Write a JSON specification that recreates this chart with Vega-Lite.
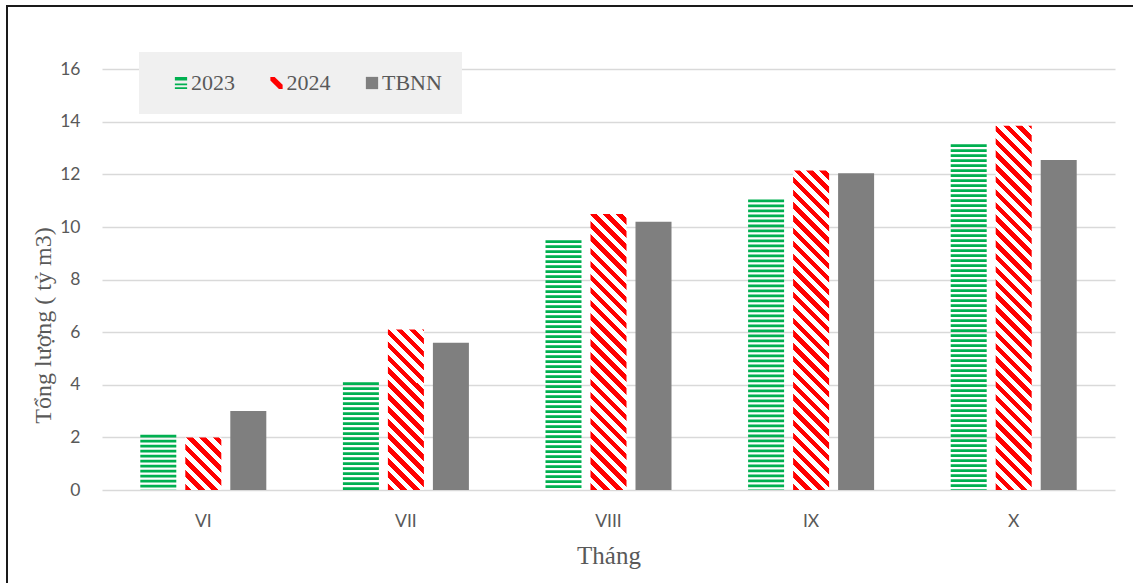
{
  "$schema": "https://vega.github.io/schema/vega-lite/v6.json",
  "width": 1130,
  "height": 580,
  "autosize": {"type": "none"},
  "padding": {"left": 7, "top": 6, "right": -4, "bottom": -3},
  "background": "white",
  "config": {
    "view": {"stroke": "#1a1a1a", "strokeWidth": 2}
  },
  "data": {
    "values": [
      {"month": "VI", "series": "2023", "value": 2.1},
      {"month": "VII", "series": "2023", "value": 4.1},
      {"month": "VIII", "series": "2023", "value": 9.5},
      {"month": "IX", "series": "2023", "value": 11.05},
      {"month": "X", "series": "2023", "value": 13.15},
      {"month": "VI", "series": "2024", "value": 2.0},
      {"month": "VII", "series": "2024", "value": 6.1},
      {"month": "VIII", "series": "2024", "value": 10.5},
      {"month": "IX", "series": "2024", "value": 12.15},
      {"month": "X", "series": "2024", "value": 13.85},
      {"month": "VI", "series": "TBNN", "value": 3.0},
      {"month": "VII", "series": "TBNN", "value": 5.6},
      {"month": "VIII", "series": "TBNN", "value": 10.2},
      {"month": "IX", "series": "TBNN", "value": 12.05},
      {"month": "X", "series": "TBNN", "value": 12.55}
    ]
  },
  "encoding": {
    "x": {
      "field": "month", "type": "nominal",
      "sort": ["VI", "VII", "VIII", "IX", "X"],
      "scale": {"range": [95, 1108], "paddingInner": 0, "paddingOuter": 0},
      "axis": {
        "title": "Tháng", "offset": -96, "domain": false, "ticks": false, "tickSize": 0,
        "grid": false, "labelAngle": 0, "labelPadding": 22,
        "labelFont": "Lato", "labelFontSize": 17.5, "labelColor": "#595959",
        "titleFont": "Liberation Serif", "titleFontSize": 25, "titleFontWeight": "normal",
        "titleColor": "#595959", "titleY": 73, "titleBaseline": "alphabetic"
      }
    },
    "xOffset": {
      "field": "series", "type": "nominal",
      "sort": ["2023", "2024", "TBNN"],
      "scale": {"paddingInner": 0.2, "paddingOuter": 0.851}
    },
    "y": {
      "field": "value", "type": "quantitative",
      "scale": {"domain": [0, 16], "range": [484, 63.3], "nice": false},
      "axis": {
        "title": "Tổng lượng ( tỷ m3)", "values": [0, 2, 4, 6, 8, 10, 12, 14, 16],
        "offset": -95, "domain": false, "ticks": false, "tickSize": 0, "labelPadding": 22,
        "labelFont": "Lato", "labelFontSize": 17.5, "labelColor": "#595959",
        "gridColor": "#d9d9d9", "gridWidth": 1.3,
        "titleFont": "Liberation Serif", "titleFontSize": 24, "titleFontWeight": "normal",
        "titleColor": "#595959", "titleX": -52, "titleY": 319, "titleAngle": 270,
        "titleBaseline": "alphabetic", "titleAlign": "center"
      }
    }
  },
  "layer": [
    {
      "transform": [{"filter": "datum.series === 'TBNN'"}],
      "mark": {"type": "bar", "color": "#7f7f7f"}
    },
    {
      "transform": [{"filter": "datum.series === '2023'"}],
      "mark": {"type": "rule", "color": "#00b050", "strokeWidth": 36, "strokeDash": [2.7, 2.3], "strokeCap": "butt"},
      "encoding": {"y2": {"datum": 0}}
    },
    {
      "transform": [{"filter": "datum.series === '2024' && datum.month === 'VI'"}],
      "mark": {"type": "bar", "fill": {"gradient": "linear", "x1": 0, "y1": 1, "x2": 0.7852, "y2": -0.147, "stops": [
        {"offset":0,"color":"red"},{"offset":0.075,"color":"red"},{"offset":0.075,"color":"#fff"},{"offset":0.15,"color":"#fff"},{"offset":0.15,"color":"red"},{"offset":0.225,"color":"red"},{"offset":0.225,"color":"#fff"},{"offset":0.3,"color":"#fff"},{"offset":0.3,"color":"red"},{"offset":0.375,"color":"red"},{"offset":0.375,"color":"#fff"},{"offset":0.45,"color":"#fff"},{"offset":0.45,"color":"red"},{"offset":0.525,"color":"red"},{"offset":0.525,"color":"#fff"},{"offset":0.6,"color":"#fff"},{"offset":0.6,"color":"red"},{"offset":0.675,"color":"red"},{"offset":0.675,"color":"#fff"},{"offset":0.75,"color":"#fff"},{"offset":0.75,"color":"red"},{"offset":0.825,"color":"red"},{"offset":0.825,"color":"#fff"},{"offset":0.9,"color":"#fff"},{"offset":0.9,"color":"red"},{"offset":0.975,"color":"red"},{"offset":0.975,"color":"#fff"},{"offset":1,"color":"#fff"}
      ]}}
    },
    {
      "transform": [{"filter": "datum.series === '2024' && datum.month === 'VII'"}],
      "mark": {"type": "bar", "fill": {"gradient": "linear", "x1": 0, "y1": 1, "x2": 0.2616, "y2": -0.1657, "stops": [
        {"offset":0,"color":"red"},{"offset":0.033,"color":"red"},{"offset":0.033,"color":"#fff"},{"offset":0.066,"color":"#fff"},{"offset":0.066,"color":"red"},{"offset":0.099,"color":"red"},{"offset":0.099,"color":"#fff"},{"offset":0.132,"color":"#fff"},{"offset":0.132,"color":"red"},{"offset":0.165,"color":"red"},{"offset":0.165,"color":"#fff"},{"offset":0.198,"color":"#fff"},{"offset":0.198,"color":"red"},{"offset":0.231,"color":"red"},{"offset":0.231,"color":"#fff"},{"offset":0.264,"color":"#fff"},{"offset":0.264,"color":"red"},{"offset":0.297,"color":"red"},{"offset":0.297,"color":"#fff"},{"offset":0.33,"color":"#fff"},{"offset":0.33,"color":"red"},{"offset":0.363,"color":"red"},{"offset":0.363,"color":"#fff"},{"offset":0.396,"color":"#fff"},{"offset":0.396,"color":"red"},{"offset":0.429,"color":"red"},{"offset":0.429,"color":"#fff"},{"offset":0.462,"color":"#fff"},{"offset":0.462,"color":"red"},{"offset":0.495,"color":"red"},{"offset":0.495,"color":"#fff"},{"offset":0.528,"color":"#fff"},{"offset":0.528,"color":"red"},{"offset":0.561,"color":"red"},{"offset":0.561,"color":"#fff"},{"offset":0.594,"color":"#fff"},{"offset":0.594,"color":"red"},{"offset":0.627,"color":"red"},{"offset":0.627,"color":"#fff"},{"offset":0.66,"color":"#fff"},{"offset":0.66,"color":"red"},{"offset":0.693,"color":"red"},{"offset":0.693,"color":"#fff"},{"offset":0.726,"color":"#fff"},{"offset":0.726,"color":"red"},{"offset":0.759,"color":"red"},{"offset":0.759,"color":"#fff"},{"offset":0.792,"color":"#fff"},{"offset":0.792,"color":"red"},{"offset":0.825,"color":"red"},{"offset":0.825,"color":"#fff"},{"offset":0.858,"color":"#fff"},{"offset":0.858,"color":"red"},{"offset":0.891,"color":"red"},{"offset":0.891,"color":"#fff"},{"offset":0.924,"color":"#fff"},{"offset":0.924,"color":"red"},{"offset":0.957,"color":"red"},{"offset":0.957,"color":"#fff"},{"offset":0.99,"color":"#fff"},{"offset":0.99,"color":"red"},{"offset":1,"color":"red"}
      ]}}
    },
    {
      "transform": [{"filter": "datum.series === '2024' && datum.month === 'VIII'"}],
      "mark": {"type": "bar", "fill": {"gradient": "linear", "x1": 0, "y1": 1, "x2": 0.1449, "y2": -0.1115, "stops": [
        {"offset":0,"color":"red"},{"offset":0.021,"color":"red"},{"offset":0.021,"color":"#fff"},{"offset":0.042,"color":"#fff"},{"offset":0.042,"color":"red"},{"offset":0.063,"color":"red"},{"offset":0.063,"color":"#fff"},{"offset":0.084,"color":"#fff"},{"offset":0.084,"color":"red"},{"offset":0.105,"color":"red"},{"offset":0.105,"color":"#fff"},{"offset":0.126,"color":"#fff"},{"offset":0.126,"color":"red"},{"offset":0.147,"color":"red"},{"offset":0.147,"color":"#fff"},{"offset":0.168,"color":"#fff"},{"offset":0.168,"color":"red"},{"offset":0.189,"color":"red"},{"offset":0.189,"color":"#fff"},{"offset":0.21,"color":"#fff"},{"offset":0.21,"color":"red"},{"offset":0.231,"color":"red"},{"offset":0.231,"color":"#fff"},{"offset":0.252,"color":"#fff"},{"offset":0.252,"color":"red"},{"offset":0.273,"color":"red"},{"offset":0.273,"color":"#fff"},{"offset":0.294,"color":"#fff"},{"offset":0.294,"color":"red"},{"offset":0.315,"color":"red"},{"offset":0.315,"color":"#fff"},{"offset":0.336,"color":"#fff"},{"offset":0.336,"color":"red"},{"offset":0.357,"color":"red"},{"offset":0.357,"color":"#fff"},{"offset":0.378,"color":"#fff"},{"offset":0.378,"color":"red"},{"offset":0.399,"color":"red"},{"offset":0.399,"color":"#fff"},{"offset":0.42,"color":"#fff"},{"offset":0.42,"color":"red"},{"offset":0.441,"color":"red"},{"offset":0.441,"color":"#fff"},{"offset":0.462,"color":"#fff"},{"offset":0.462,"color":"red"},{"offset":0.483,"color":"red"},{"offset":0.483,"color":"#fff"},{"offset":0.504,"color":"#fff"},{"offset":0.504,"color":"red"},{"offset":0.525,"color":"red"},{"offset":0.525,"color":"#fff"},{"offset":0.546,"color":"#fff"},{"offset":0.546,"color":"red"},{"offset":0.567,"color":"red"},{"offset":0.567,"color":"#fff"},{"offset":0.588,"color":"#fff"},{"offset":0.588,"color":"red"},{"offset":0.609,"color":"red"},{"offset":0.609,"color":"#fff"},{"offset":0.63,"color":"#fff"},{"offset":0.63,"color":"red"},{"offset":0.651,"color":"red"},{"offset":0.651,"color":"#fff"},{"offset":0.672,"color":"#fff"},{"offset":0.672,"color":"red"},{"offset":0.693,"color":"red"},{"offset":0.693,"color":"#fff"},{"offset":0.714,"color":"#fff"},{"offset":0.714,"color":"red"},{"offset":0.735,"color":"red"},{"offset":0.735,"color":"#fff"},{"offset":0.756,"color":"#fff"},{"offset":0.756,"color":"red"},{"offset":0.777,"color":"red"},{"offset":0.777,"color":"#fff"},{"offset":0.798,"color":"#fff"},{"offset":0.798,"color":"red"},{"offset":0.819,"color":"red"},{"offset":0.819,"color":"#fff"},{"offset":0.84,"color":"#fff"},{"offset":0.84,"color":"red"},{"offset":0.861,"color":"red"},{"offset":0.861,"color":"#fff"},{"offset":0.882,"color":"#fff"},{"offset":0.882,"color":"red"},{"offset":0.903,"color":"red"},{"offset":0.903,"color":"#fff"},{"offset":0.924,"color":"#fff"},{"offset":0.924,"color":"red"},{"offset":0.945,"color":"red"},{"offset":0.945,"color":"#fff"},{"offset":0.966,"color":"#fff"},{"offset":0.966,"color":"red"},{"offset":0.987,"color":"red"},{"offset":0.987,"color":"#fff"},{"offset":1,"color":"#fff"}
      ]}}
    },
    {
      "transform": [{"filter": "datum.series === '2024' && datum.month === 'IX'"}],
      "mark": {"type": "bar", "fill": {"gradient": "linear", "x1": 0, "y1": 1, "x2": 0.1238, "y2": -0.0987, "stops": [
        {"offset":0,"color":"red"},{"offset":0.018,"color":"red"},{"offset":0.018,"color":"#fff"},{"offset":0.036,"color":"#fff"},{"offset":0.036,"color":"red"},{"offset":0.054,"color":"red"},{"offset":0.054,"color":"#fff"},{"offset":0.072,"color":"#fff"},{"offset":0.072,"color":"red"},{"offset":0.09,"color":"red"},{"offset":0.09,"color":"#fff"},{"offset":0.108,"color":"#fff"},{"offset":0.108,"color":"red"},{"offset":0.126,"color":"red"},{"offset":0.126,"color":"#fff"},{"offset":0.144,"color":"#fff"},{"offset":0.144,"color":"red"},{"offset":0.162,"color":"red"},{"offset":0.162,"color":"#fff"},{"offset":0.18,"color":"#fff"},{"offset":0.18,"color":"red"},{"offset":0.198,"color":"red"},{"offset":0.198,"color":"#fff"},{"offset":0.216,"color":"#fff"},{"offset":0.216,"color":"red"},{"offset":0.234,"color":"red"},{"offset":0.234,"color":"#fff"},{"offset":0.252,"color":"#fff"},{"offset":0.252,"color":"red"},{"offset":0.27,"color":"red"},{"offset":0.27,"color":"#fff"},{"offset":0.288,"color":"#fff"},{"offset":0.288,"color":"red"},{"offset":0.306,"color":"red"},{"offset":0.306,"color":"#fff"},{"offset":0.324,"color":"#fff"},{"offset":0.324,"color":"red"},{"offset":0.342,"color":"red"},{"offset":0.342,"color":"#fff"},{"offset":0.36,"color":"#fff"},{"offset":0.36,"color":"red"},{"offset":0.378,"color":"red"},{"offset":0.378,"color":"#fff"},{"offset":0.396,"color":"#fff"},{"offset":0.396,"color":"red"},{"offset":0.414,"color":"red"},{"offset":0.414,"color":"#fff"},{"offset":0.432,"color":"#fff"},{"offset":0.432,"color":"red"},{"offset":0.45,"color":"red"},{"offset":0.45,"color":"#fff"},{"offset":0.468,"color":"#fff"},{"offset":0.468,"color":"red"},{"offset":0.486,"color":"red"},{"offset":0.486,"color":"#fff"},{"offset":0.504,"color":"#fff"},{"offset":0.504,"color":"red"},{"offset":0.522,"color":"red"},{"offset":0.522,"color":"#fff"},{"offset":0.54,"color":"#fff"},{"offset":0.54,"color":"red"},{"offset":0.558,"color":"red"},{"offset":0.558,"color":"#fff"},{"offset":0.576,"color":"#fff"},{"offset":0.576,"color":"red"},{"offset":0.594,"color":"red"},{"offset":0.594,"color":"#fff"},{"offset":0.612,"color":"#fff"},{"offset":0.612,"color":"red"},{"offset":0.63,"color":"red"},{"offset":0.63,"color":"#fff"},{"offset":0.648,"color":"#fff"},{"offset":0.648,"color":"red"},{"offset":0.666,"color":"red"},{"offset":0.666,"color":"#fff"},{"offset":0.684,"color":"#fff"},{"offset":0.684,"color":"red"},{"offset":0.702,"color":"red"},{"offset":0.702,"color":"#fff"},{"offset":0.72,"color":"#fff"},{"offset":0.72,"color":"red"},{"offset":0.738,"color":"red"},{"offset":0.738,"color":"#fff"},{"offset":0.756,"color":"#fff"},{"offset":0.756,"color":"red"},{"offset":0.774,"color":"red"},{"offset":0.774,"color":"#fff"},{"offset":0.792,"color":"#fff"},{"offset":0.792,"color":"red"},{"offset":0.81,"color":"red"},{"offset":0.81,"color":"#fff"},{"offset":0.828,"color":"#fff"},{"offset":0.828,"color":"red"},{"offset":0.846,"color":"red"},{"offset":0.846,"color":"#fff"},{"offset":0.864,"color":"#fff"},{"offset":0.864,"color":"red"},{"offset":0.882,"color":"red"},{"offset":0.882,"color":"#fff"},{"offset":0.9,"color":"#fff"},{"offset":0.9,"color":"red"},{"offset":0.918,"color":"red"},{"offset":0.918,"color":"#fff"},{"offset":0.936,"color":"#fff"},{"offset":0.936,"color":"red"},{"offset":0.954,"color":"red"},{"offset":0.954,"color":"#fff"},{"offset":0.972,"color":"#fff"},{"offset":0.972,"color":"red"},{"offset":0.99,"color":"red"},{"offset":0.99,"color":"#fff"},{"offset":1,"color":"#fff"}
      ]}}
    },
    {
      "transform": [{"filter": "datum.series === '2024' && datum.month === 'X'"}],
      "mark": {"type": "bar", "fill": {"gradient": "linear", "x1": 0, "y1": 1, "x2": 0.1076, "y2": -0.0882, "stops": [
        {"offset":0,"color":"red"},{"offset":0.016,"color":"red"},{"offset":0.016,"color":"#fff"},{"offset":0.032,"color":"#fff"},{"offset":0.032,"color":"red"},{"offset":0.048,"color":"red"},{"offset":0.048,"color":"#fff"},{"offset":0.064,"color":"#fff"},{"offset":0.064,"color":"red"},{"offset":0.08,"color":"red"},{"offset":0.08,"color":"#fff"},{"offset":0.096,"color":"#fff"},{"offset":0.096,"color":"red"},{"offset":0.112,"color":"red"},{"offset":0.112,"color":"#fff"},{"offset":0.128,"color":"#fff"},{"offset":0.128,"color":"red"},{"offset":0.144,"color":"red"},{"offset":0.144,"color":"#fff"},{"offset":0.16,"color":"#fff"},{"offset":0.16,"color":"red"},{"offset":0.176,"color":"red"},{"offset":0.176,"color":"#fff"},{"offset":0.192,"color":"#fff"},{"offset":0.192,"color":"red"},{"offset":0.208,"color":"red"},{"offset":0.208,"color":"#fff"},{"offset":0.224,"color":"#fff"},{"offset":0.224,"color":"red"},{"offset":0.24,"color":"red"},{"offset":0.24,"color":"#fff"},{"offset":0.256,"color":"#fff"},{"offset":0.256,"color":"red"},{"offset":0.272,"color":"red"},{"offset":0.272,"color":"#fff"},{"offset":0.288,"color":"#fff"},{"offset":0.288,"color":"red"},{"offset":0.304,"color":"red"},{"offset":0.304,"color":"#fff"},{"offset":0.32,"color":"#fff"},{"offset":0.32,"color":"red"},{"offset":0.336,"color":"red"},{"offset":0.336,"color":"#fff"},{"offset":0.352,"color":"#fff"},{"offset":0.352,"color":"red"},{"offset":0.368,"color":"red"},{"offset":0.368,"color":"#fff"},{"offset":0.384,"color":"#fff"},{"offset":0.384,"color":"red"},{"offset":0.4,"color":"red"},{"offset":0.4,"color":"#fff"},{"offset":0.416,"color":"#fff"},{"offset":0.416,"color":"red"},{"offset":0.432,"color":"red"},{"offset":0.432,"color":"#fff"},{"offset":0.448,"color":"#fff"},{"offset":0.448,"color":"red"},{"offset":0.464,"color":"red"},{"offset":0.464,"color":"#fff"},{"offset":0.48,"color":"#fff"},{"offset":0.48,"color":"red"},{"offset":0.496,"color":"red"},{"offset":0.496,"color":"#fff"},{"offset":0.512,"color":"#fff"},{"offset":0.512,"color":"red"},{"offset":0.528,"color":"red"},{"offset":0.528,"color":"#fff"},{"offset":0.544,"color":"#fff"},{"offset":0.544,"color":"red"},{"offset":0.56,"color":"red"},{"offset":0.56,"color":"#fff"},{"offset":0.576,"color":"#fff"},{"offset":0.576,"color":"red"},{"offset":0.592,"color":"red"},{"offset":0.592,"color":"#fff"},{"offset":0.608,"color":"#fff"},{"offset":0.608,"color":"red"},{"offset":0.624,"color":"red"},{"offset":0.624,"color":"#fff"},{"offset":0.64,"color":"#fff"},{"offset":0.64,"color":"red"},{"offset":0.656,"color":"red"},{"offset":0.656,"color":"#fff"},{"offset":0.672,"color":"#fff"},{"offset":0.672,"color":"red"},{"offset":0.688,"color":"red"},{"offset":0.688,"color":"#fff"},{"offset":0.704,"color":"#fff"},{"offset":0.704,"color":"red"},{"offset":0.72,"color":"red"},{"offset":0.72,"color":"#fff"},{"offset":0.736,"color":"#fff"},{"offset":0.736,"color":"red"},{"offset":0.752,"color":"red"},{"offset":0.752,"color":"#fff"},{"offset":0.768,"color":"#fff"},{"offset":0.768,"color":"red"},{"offset":0.784,"color":"red"},{"offset":0.784,"color":"#fff"},{"offset":0.8,"color":"#fff"},{"offset":0.8,"color":"red"},{"offset":0.816,"color":"red"},{"offset":0.816,"color":"#fff"},{"offset":0.832,"color":"#fff"},{"offset":0.832,"color":"red"},{"offset":0.848,"color":"red"},{"offset":0.848,"color":"#fff"},{"offset":0.864,"color":"#fff"},{"offset":0.864,"color":"red"},{"offset":0.88,"color":"red"},{"offset":0.88,"color":"#fff"},{"offset":0.896,"color":"#fff"},{"offset":0.896,"color":"red"},{"offset":0.912,"color":"red"},{"offset":0.912,"color":"#fff"},{"offset":0.928,"color":"#fff"},{"offset":0.928,"color":"red"},{"offset":0.944,"color":"red"},{"offset":0.944,"color":"#fff"},{"offset":0.96,"color":"#fff"},{"offset":0.96,"color":"red"},{"offset":0.976,"color":"red"},{"offset":0.976,"color":"#fff"},{"offset":0.992,"color":"#fff"},{"offset":0.992,"color":"red"},{"offset":1,"color":"red"}
      ]}}
    },
    {
      "transform": [{"filter": "datum.value < 0"}],
      "mark": {"type": "point", "filled": true, "opacity": 1},
      "encoding": {
        "fill": {
          "field": "series", "type": "nominal",
          "scale": {"domain": ["2023", "2024", "TBNN"], "range": ["#00b050", "#ff0000", "#7f7f7f"]},
          "legend": {
            "title": null, "orient": "none", "legendX": 132, "legendY": 46, "direction": "horizontal",
            "fillColor": "#f0f0f0", "padding": 20, "symbolSize": 150, "symbolStrokeWidth": 0,
            "symbolOpacity": 1, "symbolOffset": 11,
            "labelFont": "Liberation Serif", "labelFontSize": 22, "labelColor": "#595959",
            "labelOffset": -1, "columnPadding": 19.5
          }
        },
        "shape": {
          "field": "series", "type": "nominal",
          "scale": {"domain": ["2023", "2024", "TBNN"], "range": [
            "M-1,-1H1V-0.4H-1Z M-1,0.1H1V0.35H-1Z M-1,0.7H1V1H-1Z",
            "M-1,-1H-0.3L1,0.3V1H0.4L-1,-0.4Z",
            "square"
          ]},
          "legend": {
            "title": null, "orient": "none", "legendX": 132, "legendY": 46, "direction": "horizontal",
            "fillColor": "#f0f0f0", "padding": 20, "symbolSize": 150, "symbolStrokeWidth": 0,
            "symbolOpacity": 1, "symbolOffset": 11,
            "labelFont": "Liberation Serif", "labelFontSize": 22, "labelColor": "#595959",
            "labelOffset": -1, "columnPadding": 19.5
          }
        }
      }
    }
  ]
}
